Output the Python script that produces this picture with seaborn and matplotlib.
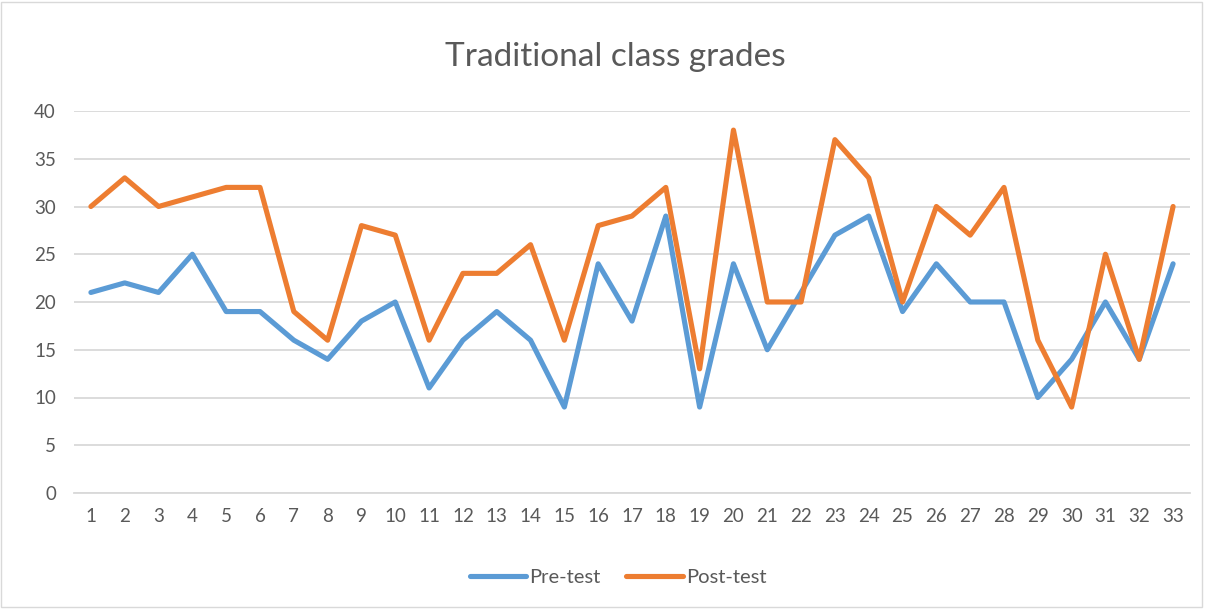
import matplotlib.pyplot as plt
import matplotlib.patches as mpatches
import seaborn as sns
import pandas as pd

students = list(range(1, 34))
pre_test = [21, 22, 21, 25, 19, 19, 16, 14, 18, 20, 11, 16, 19, 16, 9, 24, 18,
            29, 9, 24, 15, 21, 27, 29, 19, 24, 20, 20, 10, 14, 20, 14, 24]
post_test = [30, 33, 30, 31, 32, 32, 19, 16, 28, 27, 16, 23, 23, 26, 16, 28, 29,
             32, 13, 38, 20, 20, 37, 33, 20, 30, 27, 32, 16, 9, 25, 14, 30]
y_ticks = [0, 5, 10, 15, 20, 25, 30, 35, 40]

df = pd.DataFrame({'student': students * 2,
                   'grade': pre_test + post_test,
                   'test': ['Pre-test'] * 33 + ['Post-test'] * 33})

sns.set_theme(style='white')
plt.rcParams['font.family'] = ['Lato', 'DejaVu Sans']
text_col = '#595959'
grid_col = '#D9D9D9'

fig = plt.figure(figsize=(12.06, 6.09), dpi=100)
ax = fig.add_axes([74 / 1206, 1 - 493 / 609, (1190 - 74) / 1206, (493 - 111) / 609])

sns.lineplot(data=df, x='student', y='grade', hue='test', ax=ax,
             palette={'Pre-test': '#5B9BD5', 'Post-test': '#ED7D31'},
             linewidth=3.7, legend=True)
for line in ax.lines:
    line.set_solid_joinstyle('round')
    line.set_solid_capstyle('round')

ax.set_xlim(0.5, 33.5)
ax.set_ylim(0, 40)
ax.set_xticks(students)
ax.set_yticks(y_ticks)
ax.yaxis.grid(True, color=grid_col, linewidth=1.3)
ax.set_axisbelow(True)
for s in ['top', 'right', 'left']:
    ax.spines[s].set_visible(False)
ax.spines['bottom'].set_color(grid_col)
ax.spines['bottom'].set_linewidth(1.3)
ax.tick_params(axis='both', length=0, labelsize=13.5, colors=text_col)
ax.tick_params(axis='x', pad=11)
ax.tick_params(axis='y', pad=13)
ax.set_xlabel('')
ax.set_ylabel('')

fig.text(615 / 1206, 1 - 57 / 609, 'Traditional class grades', ha='center', va='center',
         fontsize=24, color=text_col)

handles, labels = ax.get_legend_handles_labels()
ax.legend(handles, labels, loc='center', bbox_to_anchor=(618 / 1206, 1 - 577 / 609),
          bbox_transform=fig.transFigure, ncol=2, frameon=False, fontsize=14.5,
          labelcolor=text_col, handlelength=2.8, handletextpad=0.15, columnspacing=1.3)

fig.patches.append(mpatches.Rectangle((0.001, 0.003), 0.996, 0.994, transform=fig.transFigure,
                                      fill=False, edgecolor=grid_col, linewidth=1))

plt.savefig('out.png', dpi=100)
